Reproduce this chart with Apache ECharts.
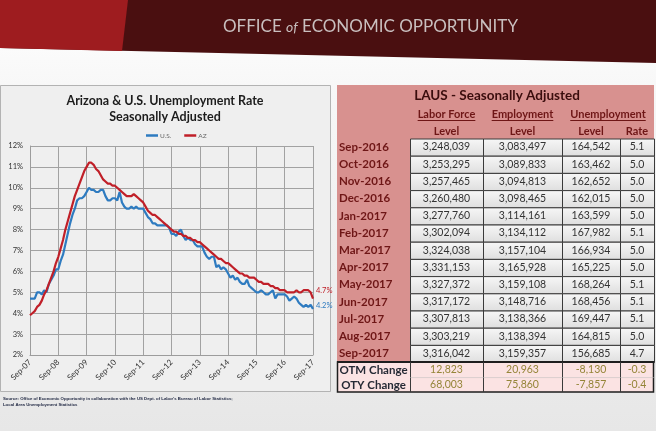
<!DOCTYPE html>
<html><head><meta charset="utf-8">
<script src="https://cdn.jsdelivr.net/npm/echarts@6/dist/echarts.min.js"></script>
<style>html,body{margin:0;padding:0;background:#ececec}#c{width:656px;height:431px}</style>
</head><body><div id="c"></div>
<script>
// ---- chart data ----
const tickLabels = ['Sep-07','Sep-08','Sep-09','Sep-10','Sep-11','Sep-12','Sep-13','Sep-14','Sep-15','Sep-16','Sep-17'];
const monthNames = ['Jan','Feb','Mar','Apr','May','Jun','Jul','Aug','Sep','Oct','Nov','Dec'];
const usRate = [
  4.7,4.7,4.7,5.0,
  5.0,4.9,5.1,5.0,5.4,5.6,5.8,6.1,6.1,6.5,6.8,7.3,
  7.8,8.3,8.7,9.0,9.4,9.5,9.5,9.6,9.8,10.0,9.9,9.9,
  9.8,9.8,9.9,9.9,9.6,9.4,9.4,9.5,9.5,9.4,9.8,9.3,
  9.1,9.0,9.0,9.1,9.0,9.1,9.0,9.0,9.0,8.8,8.6,8.5,
  8.3,8.3,8.2,8.2,8.2,8.2,8.2,8.1,7.8,7.8,7.7,7.9,
  8.0,7.7,7.5,7.6,7.5,7.5,7.3,7.2,7.2,7.2,6.9,6.7,
  6.6,6.7,6.7,6.2,6.3,6.1,6.2,6.1,5.9,5.7,5.8,5.6,
  5.7,5.5,5.4,5.4,5.6,5.3,5.2,5.1,5.0,5.0,5.1,5.0,
  4.9,4.9,5.0,5.1,4.7,4.9,4.9,4.9,4.9,4.8,4.6,4.7,
  4.8,4.7,4.5,4.4,4.3,4.4,4.3,4.4,4.2
];
const azRate = [
  3.9,4.0,4.1,4.3,
  4.4,4.6,4.9,5.1,5.4,5.7,6.0,6.4,6.7,7.1,7.5,8.0,
  8.4,8.8,9.2,9.6,9.9,10.2,10.5,10.8,11.0,11.2,11.2,11.1,
  10.9,10.8,10.6,10.4,10.3,10.2,10.2,10.1,10.1,10.0,9.9,9.8,
  9.7,9.6,9.6,9.6,9.7,9.6,9.5,9.4,9.3,9.1,8.9,8.8,
  8.7,8.7,8.6,8.5,8.4,8.3,8.2,8.1,8.0,7.9,7.9,7.8,
  7.8,7.7,7.7,7.6,7.6,7.5,7.5,7.4,7.4,7.3,7.2,7.1,
  7.0,6.9,6.8,6.7,6.6,6.6,6.5,6.4,6.4,6.3,6.2,6.1,
  6.0,5.9,5.9,5.8,5.8,5.7,5.7,5.7,5.6,5.5,5.5,5.4,
  5.4,5.4,5.3,5.3,5.2,5.2,5.1,5.1,5.1,5.0,5.0,5.0,
  5.0,5.1,5.0,5.0,5.1,5.1,5.1,5.0,4.7
];
const seriesNames = ['U.S.','AZ'];

// ---- table data ----
const tableMonths = ['Sep-2016','Oct-2016','Nov-2016','Dec-2016','Jan-2017','Feb-2017','Mar-2017','Apr-2017','May-2017','Jun-2017','Jul-2017','Aug-2017','Sep-2017'];
const laborForce = [3248039,3253295,3257465,3260480,3277760,3302094,3324038,3331153,3327372,3317172,3307813,3303219,3316042];
const employment = [3083497,3089833,3094813,3098465,3114161,3134112,3157104,3165928,3159108,3148716,3138366,3138394,3159357];
const unempLevel = [164542,163462,162652,162015,163599,167982,166934,165225,168264,168456,169447,164815,156685];
const unempRate = [5.1,5.0,5.0,5.0,5.0,5.1,5.0,5.0,5.1,5.1,5.1,5.0,4.7];
const changeLabels = ['OTM Change','OTY Change'];
const otmChange = [12823,20963,-8130,-0.3];
const otyChange = [68003,75860,-7857,-0.4];
const colHeads = ['Labor Force','Employment','Unemployment'];
const subHeads = ['Level','Level','Level','Rate'];

// categories
const months = [];
for (let i = 0; i < usRate.length; i++) {
  const m = (8 + i) % 12, y = 2007 + Math.floor((8 + i) / 12);
  months.push(monthNames[m] + '-' + String(y).slice(2));
}

const fmtInt = n => n.toLocaleString('en-US');
const fmtRate = n => n.toFixed(1);

const ctx = document.createElement('canvas').getContext('2d');
function tw(t, font) { ctx.font = font; return ctx.measureText(t).width; }

const FF = 'Lato, "Open Sans", sans-serif';
const g = [];
// page background
g.push({type:'rect', z:-30, shape:{x:0,y:0,width:656,height:431},
  style:{fill:new echarts.graphic.LinearGradient(0,0,0,1,[{offset:0,color:'#ffffff'},{offset:0.25,color:'#f6f6f6'},{offset:1,color:'#e7e7e7'}])}});
// header band
g.push({type:'polygon', z:-25, shape:{points:[[0,0],[656,0],[656,63],[0,48]]}, style:{fill:'#4a0f10'}});
g.push({type:'polygon', z:-24, shape:{points:[[0,0],[128,0],[122,51],[0,48]]}, style:{fill:'#9e1c1f'}});
g.push({type:'text', z:10, x:223, y:27, style:{
  text:'{a|OFFICE }{b|of}{a| ECONOMIC OPPORTUNITY}', verticalAlign:'middle', align:'left',
  rich:{a:{fontFamily:FF, fontSize:17, fill:'#c9bfbf'}, b:{fontFamily:FF, fontSize:14, fontStyle:'italic', fill:'#c9bfbf'}}}});
// left panel
g.push({type:'rect', z:-20, shape:{x:0.5,y:85.5,width:330,height:306}, style:{fill:'#efefef', stroke:'#b3b3b3', lineWidth:1}});
g.push({type:'text', z:10, x:165, y:101, style:{text:'Arizona & U.S. Unemployment Rate', align:'center', verticalAlign:'middle', fontFamily:FF, fontWeight:'bold', fontSize:12.5, fill:'#1c1c1c'}});
g.push({type:'text', z:10, x:165, y:116.5, style:{text:'Seasonally Adjusted', align:'center', verticalAlign:'middle', fontFamily:FF, fontWeight:'bold', fontSize:12.5, fill:'#1c1c1c'}});
g.push({type:'text', z:10, x:3, y:399, style:{text:"Source: Office of Economic Opportunity in collaboration with the US Dept. of Labor's Bureau of Labor Statistics;", align:'left', verticalAlign:'middle', fontFamily:'"Liberation Sans", sans-serif', fontWeight:'bold', fontSize:4.3, fill:'#1d2540'}});
g.push({type:'text', z:10, x:3, y:405, style:{text:'Local Area Unemployment Statistics', align:'left', verticalAlign:'middle', fontFamily:'"Liberation Sans", sans-serif', fontWeight:'bold', fontSize:4.3, fill:'#1d2540'}});

// ---- table ----
const cols = [337, 410, 483, 562, 620, 654];
const rowTop = 138.5, rowH = 17.2;
const nRows = tableMonths.length;
const dataBottom = rowTop + nRows * rowH;
const chH = (392 - dataBottom) / 2;
const maroon = '#6e1616';
g.push({type:'rect', z:-20, shape:{x:cols[0],y:85,width:cols[5]-cols[0],height:dataBottom-85}, style:{fill:'#d8918f'}});
g.push({type:'text', z:10, x:497, y:96, style:{text:'LAUS - Seasonally Adjusted', align:'center', verticalAlign:'middle', fontFamily:FF, fontWeight:'bold', fontSize:13.5, fill:'#3a0d0d'}});
const headCx = [(cols[1]+cols[2])/2, (cols[2]+cols[3])/2, (cols[3]+cols[5])/2];
colHeads.forEach((h, i) => {
  const f = 'bold 11px ' + FF;
  const w = tw(h, f);
  g.push({type:'text', z:10, x:headCx[i], y:114, style:{text:h, align:'center', verticalAlign:'middle', fontFamily:FF, fontWeight:'bold', fontSize:11, fill:maroon}});
  g.push({type:'line', z:10, shape:{x1:headCx[i]-w/2, y1:120.5, x2:headCx[i]+w/2, y2:120.5}, style:{stroke:maroon, lineWidth:1}});
});
subHeads.forEach((h, i) => {
  g.push({type:'text', z:10, x:(cols[i+1]+cols[i+2])/2, y:131, style:{text:h, align:'center', verticalAlign:'middle', fontFamily:FF, fontWeight:'bold', fontSize:11, fill:maroon}});
});
const cellGrad = new echarts.graphic.LinearGradient(0,0,0,1,[{offset:0,color:'#f7f7f7'},{offset:1,color:'#dedede'}]);
for (let r = 0; r < nRows; r++) {
  const y = rowTop + r * rowH, yc = y + rowH / 2;
  g.push({type:'text', z:10, x:cols[0]+2, y:yc, style:{text:tableMonths[r], align:'left', verticalAlign:'middle', fontFamily:FF, fontWeight:'bold', fontSize:11.5, fill:maroon}});
  const vals = [fmtInt(laborForce[r]), fmtInt(employment[r]), fmtInt(unempLevel[r]), fmtRate(unempRate[r])];
  for (let c = 0; c < 4; c++) {
    g.push({type:'rect', z:0, shape:{x:cols[c+1]+0.5, y:y+0.5, width:cols[c+2]-cols[c+1], height:rowH}, style:{fill:cellGrad, stroke:'#3a3a3a', lineWidth:1}});
    g.push({type:'text', z:10, x:(cols[c+1]+cols[c+2])/2, y:yc, style:{text:vals[c], align:'center', verticalAlign:'middle', fontFamily:FF, fontSize:10.5, fill:'#333333'}});
  }
}
// change rows
g.push({type:'rect', z:0, shape:{x:cols[0]+0.5, y:dataBottom, width:cols[5]-cols[0]-1, height:392-dataBottom}, style:{fill:'#fbe3e3', stroke:'#1e1e1e', lineWidth:1.5}});
g.push({type:'line', z:5, shape:{x1:cols[0], y1:dataBottom, x2:cols[5], y2:dataBottom}, style:{stroke:'#1e1e1e', lineWidth:2}});
for (let c = 1; c <= 4; c++) {
  g.push({type:'line', z:5, shape:{x1:cols[c]+0.5, y1:dataBottom, x2:cols[c]+0.5, y2:392}, style:{stroke:'#3a3a3a', lineWidth:1}});
}
g.push({type:'line', z:5, shape:{x1:cols[1], y1:dataBottom+chH+0.5, x2:cols[5], y2:dataBottom+chH+0.5}, style:{stroke:'#bdbdbd', lineWidth:0.5}});
[otmChange, otyChange].forEach((arr, r) => {
  const yc = dataBottom + chH * r + chH / 2 + 0.5;
  g.push({type:'text', z:10, x:(cols[0]+cols[1])/2, y:yc, style:{text:changeLabels[r], align:'center', verticalAlign:'middle', fontFamily:FF, fontWeight:'bold', fontSize:11.5, fill:'#262a35'}});
  arr.forEach((v, c) => {
    const t = c === 3 ? fmtRate(v) : fmtInt(v);
    g.push({type:'text', z:10, x:(cols[c+1]+cols[c+2])/2, y:yc, style:{text:t, align:'center', verticalAlign:'middle', fontFamily:FF, fontSize:10.5, fill:'#958538'}});
  });
});

const every12 = (idx) => idx % 12 === 0;
const chart = echarts.init(document.getElementById('c'), null, {renderer:'canvas'});
chart.setOption({
  animation:false,
  graphic: g,
  legend: {data: seriesNames, left:141, top:127, icon:'rect', itemWidth:12, itemHeight:2.5, itemGap:13,
    textStyle:{fontFamily:FF, fontSize:6.5, color:'#666666', padding:[0,0,0,-3]}},
  grid: {left:30, top:146, width:283, height:209},
  xAxis: {type:'category', data:months, boundaryGap:false,
    axisLine:{lineStyle:{color:'#9c9c9c'}}, axisTick:{show:false},
    axisLabel:{interval: every12, rotate:45, fontFamily:FF, fontSize:8, color:'#333333', margin:6,
      formatter:(v, idx) => tickLabels[idx / 12]},
    splitLine:{show:true, interval: every12, lineStyle:{color:'#a2a2a2', width:1}}},
  yAxis: {type:'value', min:2, max:12, interval:1,
    axisLine:{show:true, lineStyle:{color:'#9c9c9c'}}, axisTick:{show:false},
    axisLabel:{formatter:'{value}%', fontFamily:FF, fontSize:7.5, color:'#333333', margin:7},
    splitLine:{lineStyle:{color:'#a2a2a2', width:1}}},
  series: [
    {name:seriesNames[0], type:'line', data:usRate, symbol:'none', color:'#2e7bc0',
      lineStyle:{width:2.2}, z:3,
      endLabel:{show:true, formatter:p => p.value.toFixed(1) + '%', fontFamily:FF, fontSize:7.5, color:'#2e7bc0', distance:3, offset:[0,-3]}},
    {name:seriesNames[1], type:'line', data:azRate, symbol:'none', color:'#c01f28',
      lineStyle:{width:2.2}, z:4,
      endLabel:{show:true, formatter:p => p.value.toFixed(1) + '%', fontFamily:FF, fontSize:7.5, color:'#c01f28', distance:3, offset:[0,-8]}}
  ]
});
</script></body></html>
